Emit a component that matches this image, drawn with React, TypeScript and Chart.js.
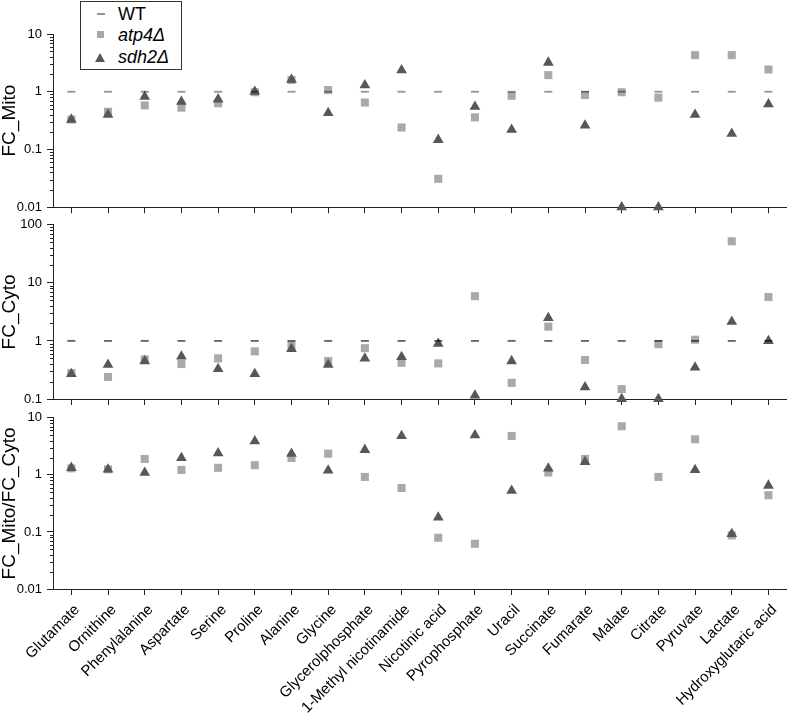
import React, { useEffect, useRef } from "react";
import { Chart, registerables } from "chart.js";

Chart.register(...registerables);

const categories = [
  "Glutamate", "Ornithine", "Phenylalanine", "Aspartate", "Serine", "Proline", "Alanine",
  "Glycine", "Glycerolphosphate", "1-Methyl nicotinamide", "Nicotinic acid", "Pyrophosphate",
  "Uracil", "Succinate", "Fumarate", "Malate", "Citrate", "Pyruvate", "Lactate", "Hydroxyglutaric acid",
];

const mitoWT = [1, 1, 1, 1, 1, 1, 1, 1, 1, 1, 1, 1, 1, 1, 1, 1, 1, 1, 1, 1];
const mitoAtp4 = [0.33, 0.45, 0.58, 0.53, 0.63, 0.98, 1.6, 1.07, 0.65, 0.24, 0.031, 0.36, 0.85, 1.94, 0.88, 0.98, 0.79, 4.3, 4.3, 2.43];
const mitoSdh2 = [0.33, 0.4, 0.82, 0.67, 0.74, 1.0, 1.62, 0.43, 1.3, 2.37, 0.147, 0.55, 0.22, 3.2, 0.26, 0.01, 0.01, 0.4, 0.187, 0.61];

const cytoWT = [1, 1, 1, 1, 1, 1, 1, 1, 1, 1, 1, 1, 1, 1, 1, 1, 1, 1, 1, 1];
const cytoAtp4 = [0.28, 0.24, 0.48, 0.4, 0.5, 0.66, 0.84, 0.45, 0.75, 0.42, 0.41, 5.9, 0.19, 1.76, 0.47, 0.148, 0.88, 1.05, 52, 5.7];
const cytoSdh2 = [0.27, 0.39, 0.45, 0.54, 0.33, 0.27, 0.73, 0.39, 0.5, 0.53, 0.9, 0.115, 0.45, 2.5, 0.16, 0.1, 0.1, 0.35, 2.14, 1.0];

const ratioAtp4 = [1.3, 1.25, 1.9, 1.22, 1.33, 1.48, 1.98, 2.35, 0.92, 0.59, 0.079, 0.062, 4.8, 1.1, 1.9, 7.1, 0.92, 4.2, 0.087, 0.44];
const ratioSdh2 = [1.33, 1.25, 1.09, 1.98, 2.4, 3.9, 2.35, 1.2, 2.75, 4.8, 0.18, 4.97, 0.53, 1.3, 1.69, null, null, 1.22, 0.092, 0.65];

const FONT = '"Liberation Sans", Arial, Helvetica, sans-serif';
const AXIS = "#222";

const isDecade = (v: number) => Math.abs(Math.log10(v) - Math.round(Math.log10(v))) < 1e-6;

const minorTicks = {
  id: "minorTicks",
  afterDraw(chart: any) {
    const s = chart.scales.y;
    const ctx = chart.ctx;
    const left = chart.chartArea.left;
    ctx.save();
    ctx.strokeStyle = AXIS;
    ctx.lineWidth = 1;
    const lo = Math.round(Math.log10(s.min));
    const hi = Math.round(Math.log10(s.max));
    for (let d = lo; d < hi; d++) {
      for (let k = 2; k <= 9; k++) {
        const v = k * Math.pow(10, d);
        const py = Math.round(s.getPixelForValue(v)) + 0.5;
        ctx.beginPath();
        ctx.moveTo(left - 3, py);
        ctx.lineTo(left, py);
        ctx.stroke();
      }
    }
    ctx.restore();
  },
};

type PanelCfg = {
  top: number;
  height: number;
  padTop: number;
  xHeight: number;
  min: number;
  max: number;
  title: string;
  showLabels: boolean;
  wt: (number | null)[] | null;
  wtColor: string;
  wtWidth: number;
  atp4: (number | null)[];
  sdh2: (number | null)[];
};

function Panel({ cfg }: { cfg: PanelCfg }) {
  const ref = useRef<HTMLCanvasElement>(null);
  useEffect(() => {
    const datasets: any[] = [];
    if (cfg.wt) {
      datasets.push({
        label: "WT",
        data: cfg.wt,
        showLine: false,
        pointStyle: "line",
        pointRadius: 4,
        pointHoverRadius: 4,
        pointBorderColor: cfg.wtColor,
        pointBorderWidth: cfg.wtWidth,
        clip: false,
      });
    }
    datasets.push({
      label: "sdh2Δ",
      data: cfg.sdh2,
      showLine: false,
      pointStyle: "triangle",
      pointRadius: 6.2,
      pointHoverRadius: 6.2,
      pointBackgroundColor: "#575757",
      pointBorderColor: "#575757",
      pointBorderWidth: 0,
      clip: false,
    });
    datasets.push({
      label: "atp4Δ",
      data: cfg.atp4,
      showLine: false,
      pointStyle: "rect",
      pointRadius: 5.7,
      pointHoverRadius: 5.7,
      pointBackgroundColor: "#a9a9a9",
      pointBorderColor: "#a9a9a9",
      pointBorderWidth: 0,
      clip: false,
    });

    const chart = new Chart(ref.current as HTMLCanvasElement, {
      type: "line",
      data: { labels: categories, datasets },
      options: {
        animation: false,
        responsive: false,
        maintainAspectRatio: false,
        devicePixelRatio: 1,
        events: [],
        layout: { padding: { top: cfg.padTop, left: 0, right: 2, bottom: 0 } },
        plugins: { legend: { display: false }, tooltip: { enabled: false } },
        scales: {
          x: {
            type: "category",
            offset: true,
            afterFit: (s: any) => {
              s.height = cfg.xHeight;
            },
            grid: { drawOnChartArea: false, offset: false, tickLength: 6, tickColor: AXIS, tickWidth: 1 },
            border: { color: AXIS, width: 1 },
            ticks: {
              display: cfg.showLabels,
              autoSkip: false,
              minRotation: 45,
              maxRotation: 45,
              padding: 6,
              labelOffset: 6,
              color: "#000",
              font: { family: FONT, size: 15 },
            },
          },
          y: {
            type: "logarithmic",
            min: cfg.min,
            max: cfg.max,
            afterBuildTicks: (s: any) => {
              s.ticks = s.ticks.filter((t: any) => isDecade(t.value));
            },
            afterFit: (s: any) => {
              s.width = 53;
            },
            grid: { drawOnChartArea: false, tickLength: 6, tickColor: AXIS, tickWidth: 1 },
            border: { color: AXIS, width: 1 },
            ticks: {
              padding: 5,
              color: "#000",
              font: { family: FONT, size: 13 },
              callback: (v: any) => String(parseFloat(Number(v).toPrecision(1))),
            },
            title: {
              display: true,
              text: cfg.title,
              color: "#000",
              padding: 0,
              font: { family: FONT, size: 19, lineHeight: 1 },
            },
          },
        },
      },
      plugins: [minorTicks],
    });
    return () => chart.destroy();
  }, [cfg]);
  return (
    <canvas
      ref={ref}
      width={793}
      height={cfg.height}
      style={{ position: "absolute", left: 0, top: cfg.top, width: 793, height: cfg.height }}
    />
  );
}

const panels: PanelCfg[] = [
  {
    top: 0, height: 220, padTop: 34, xHeight: 12, min: 0.01, max: 10, title: "FC_Mito", showLabels: false,
    wt: mitoWT, wtColor: "rgba(0,0,0,0.42)", wtWidth: 1.8, atp4: mitoAtp4, sdh2: mitoSdh2,
  },
  {
    top: 212, height: 200, padTop: 11, xHeight: 13, min: 0.1, max: 100, title: "FC_Cyto", showLabels: false,
    wt: cytoWT, wtColor: "rgba(0,0,0,0.85)", wtWidth: 1.3, atp4: cytoAtp4, sdh2: cytoSdh2,
  },
  {
    top: 405, height: 312, padTop: 9, xHeight: 128, min: 0.01, max: 10, title: "FC_Mito/FC_Cyto", showLabels: true,
    wt: null, wtColor: "#000", wtWidth: 1, atp4: ratioAtp4, sdh2: ratioSdh2,
  },
];

function Legend() {
  const text: React.CSSProperties = {
    position: "absolute",
    left: 37,
    fontFamily: FONT,
    fontSize: 18,
    lineHeight: "18px",
    color: "#000",
    whiteSpace: "nowrap",
  };
  return (
    <div
      style={{
        position: "absolute",
        left: 80,
        top: 1,
        width: 100,
        height: 67,
        border: "1px solid #333",
        background: "#fff",
        zIndex: 5,
      }}
    >
      <div style={{ position: "absolute", left: 16, top: 11, width: 8, height: 2, background: "rgba(0,0,0,0.42)" }} />
      <div style={{ ...text, top: 3 }}>WT</div>
      <div style={{ position: "absolute", left: 16, top: 29, width: 7, height: 7, background: "#a9a9a9" }} />
      <div style={{ ...text, top: 24, fontStyle: "italic" }}>atp4Δ</div>
      <div
        style={{
          position: "absolute",
          left: 14,
          top: 51,
          width: 0,
          height: 0,
          borderLeft: "5.5px solid transparent",
          borderRight: "5.5px solid transparent",
          borderBottom: "9px solid #575757",
        }}
      />
      <div style={{ ...text, top: 46, fontStyle: "italic" }}>sdh2Δ</div>
    </div>
  );
}

export default function App() {
  return (
    <div style={{ position: "absolute", left: 0, top: 0, width: 793, height: 717, background: "#fff" }}>
      {panels.map((p, i) => (
        <Panel key={i} cfg={p} />
      ))}
      <Legend />
    </div>
  );
}
